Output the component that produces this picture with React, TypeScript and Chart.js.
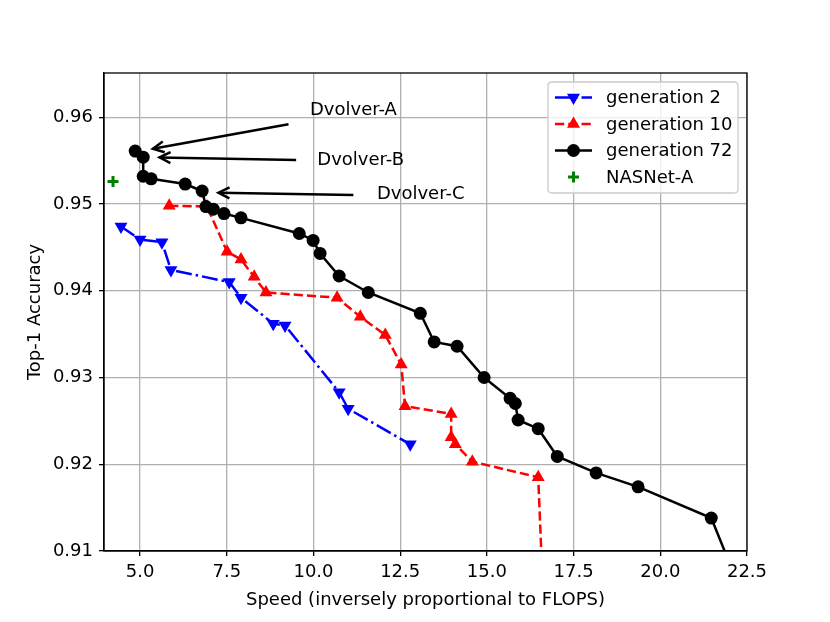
import React, { useEffect, useRef } from "react";
import { Chart, registerables } from "chart.js";

Chart.register(...registerables);

// ---- data ----
const gen2X = [4.45, 5.0, 5.63, 5.89, 7.57, 7.91, 8.84, 9.18, 10.74, 11.0, 12.79];
const gen2Y = [0.9474, 0.9459, 0.9456, 0.9424, 0.941, 0.9392, 0.9362, 0.936, 0.9283, 0.9264, 0.9223];

const gen10X = [5.84, 6.93, 7.51, 7.91, 8.29, 8.63, 10.68, 11.35, 12.07, 12.53, 12.64, 13.97, 13.97, 14.09, 14.58, 16.48, 16.62];
const gen10Y = [0.9498, 0.9497, 0.9445, 0.9436, 0.9416, 0.9398, 0.9392, 0.937, 0.9349, 0.9315, 0.9267, 0.9258, 0.9231, 0.9223, 0.9203, 0.9185, 0.905];

const gen72X = [4.86, 5.09, 5.09, 5.32, 6.3, 6.79, 6.9, 7.11, 7.42, 7.91, 9.59, 9.99, 10.19, 10.74, 11.58, 13.08, 13.48, 14.14, 14.92, 15.67, 15.82, 15.9, 16.48, 17.03, 18.15, 19.36, 21.47, 22.26];
const gen72Y = [0.9561, 0.9554, 0.9532, 0.9529, 0.9523, 0.9515, 0.9497, 0.9494, 0.9489, 0.9484, 0.9466, 0.9458, 0.9443, 0.9417, 0.9398, 0.9374, 0.9341, 0.9336, 0.93, 0.9276, 0.927, 0.9251, 0.9241, 0.9209, 0.919, 0.9174, 0.9138, 0.906];

const nasnetX = [4.22];
const nasnetY = [0.9526];

const seriesLabels = ["generation 2", "generation 10", "generation 72", "NASNet-A"];

const xTicks = [5.0, 7.5, 10.0, 12.5, 15.0, 17.5, 20.0, 22.5];
const yTicks = [0.91, 0.92, 0.93, 0.94, 0.95, 0.96];

const annotationTexts = ["Dvolver-A", "Dvolver-B", "Dvolver-C"];
const annotationTextX = [9.9, 10.11, 11.83];
const annotationTextY = [0.9608, 0.95506, 0.95112];
const arrowTailX = [9.28, 9.5, 11.15];
const arrowTailY = [0.9592, 0.95506, 0.95103];
const arrowHeadX = [5.37, 5.56, 7.26];
const arrowHeadY = [0.95636, 0.95537, 0.9513];

const FONT = "'DejaVu Sans', sans-serif";
const FS = 18;

function pts(xs: number[], ys: number[]) {
  return xs.map((x, i) => ({ x, y: ys[i] }));
}

function drawMarker(ctx: CanvasRenderingContext2D, kind: string, x: number, y: number, color: string) {
  ctx.save();
  ctx.fillStyle = color;
  ctx.strokeStyle = color;
  ctx.setLineDash([]);
  if (kind === "circle") {
    ctx.beginPath();
    ctx.arc(x, y, 6.5, 0, Math.PI * 2);
    ctx.fill();
  } else if (kind === "up" || kind === "down") {
    const r = 7.5;
    const s = kind === "up" ? 1 : -1;
    ctx.beginPath();
    for (let k = 0; k < 3; k++) {
      const a = (k * 2 * Math.PI) / 3;
      const px = x + Math.sin(a) * r;
      const py = y - s * Math.cos(a) * r;
      if (k === 0) ctx.moveTo(px, py);
      else ctx.lineTo(px, py);
    }
    ctx.closePath();
    ctx.fill();
  } else if (kind === "plus") {
    ctx.lineWidth = 3;
    ctx.beginPath();
    ctx.moveTo(x - 5.5, y);
    ctx.lineTo(x + 5.5, y);
    ctx.moveTo(x, y - 5.5);
    ctx.lineTo(x, y + 5.5);
    ctx.stroke();
  }
  ctx.restore();
}

const overlayPlugin = {
  id: "overlay",
  afterDatasetsDraw(chart: any) {
    const ctx: CanvasRenderingContext2D = chart.ctx;
    const xs = chart.scales.x;
    const ys = chart.scales.y;
    const area = chart.chartArea;

    // spines
    ctx.save();
    ctx.strokeStyle = "#000";
    ctx.lineWidth = 1.3;
    ctx.strokeRect(area.left, area.top, area.right - area.left, area.bottom - area.top);
    ctx.restore();

    // annotations
    ctx.save();
    ctx.strokeStyle = "#000";
    ctx.fillStyle = "#000";
    ctx.lineWidth = 2.5;
    ctx.lineCap = "butt";
    for (let i = 0; i < annotationTexts.length; i++) {
      const tx = xs.getPixelForValue(arrowTailX[i]);
      const ty = ys.getPixelForValue(arrowTailY[i]);
      const hx = xs.getPixelForValue(arrowHeadX[i]);
      const hy = ys.getPixelForValue(arrowHeadY[i]);
      ctx.beginPath();
      ctx.moveTo(tx, ty);
      ctx.lineTo(hx, hy);
      ctx.stroke();
      const ang = Math.atan2(ty - hy, tx - hx);
      const hl = 11, hw = 5.5;
      const bx = hx + Math.cos(ang) * hl;
      const by = hy + Math.sin(ang) * hl;
      ctx.beginPath();
      ctx.moveTo(bx - Math.sin(ang) * hw, by + Math.cos(ang) * hw);
      ctx.lineTo(hx, hy);
      ctx.lineTo(bx + Math.sin(ang) * hw, by - Math.cos(ang) * hw);
      ctx.stroke();

      ctx.font = `${FS}px ${FONT}`;
      ctx.textAlign = "left";
      ctx.textBaseline = "middle";
      ctx.fillText(
        annotationTexts[i],
        xs.getPixelForValue(annotationTextX[i]),
        ys.getPixelForValue(annotationTextY[i])
      );
    }
    ctx.restore();

    // legend
    ctx.save();
    const lx = 548, ly = 82, lw = 190, lh = 111, rad = 4;
    ctx.beginPath();
    ctx.moveTo(lx + rad, ly);
    ctx.lineTo(lx + lw - rad, ly);
    ctx.quadraticCurveTo(lx + lw, ly, lx + lw, ly + rad);
    ctx.lineTo(lx + lw, ly + lh - rad);
    ctx.quadraticCurveTo(lx + lw, ly + lh, lx + lw - rad, ly + lh);
    ctx.lineTo(lx + rad, ly + lh);
    ctx.quadraticCurveTo(lx, ly + lh, lx, ly + lh - rad);
    ctx.lineTo(lx, ly + rad);
    ctx.quadraticCurveTo(lx, ly, lx + rad, ly);
    ctx.closePath();
    ctx.fillStyle = "rgba(255,255,255,0.8)";
    ctx.fill();
    ctx.strokeStyle = "#cccccc";
    ctx.lineWidth = 1.3;
    ctx.stroke();

    const colors = ["#0000ff", "#ff0000", "#000000", "#008000"];
    const dashes = [[16, 4, 2.5, 4], [9.25, 4], [], []];
    const markers = ["down", "up", "circle", "plus"];
    const rows = [97.5, 124, 150.5, 177];
    for (let i = 0; i < 4; i++) {
      const y = rows[i];
      if (i < 3) {
        ctx.save();
        ctx.strokeStyle = colors[i];
        ctx.lineWidth = 2.5;
        ctx.setLineDash(dashes[i]);
        ctx.beginPath();
        ctx.moveTo(555, y);
        ctx.lineTo(592, y);
        ctx.stroke();
        ctx.restore();
      }
      drawMarker(ctx, markers[i], 573.5, y, colors[i]);
      ctx.fillStyle = "#000";
      ctx.font = `${FS}px ${FONT}`;
      ctx.textAlign = "left";
      ctx.textBaseline = "middle";
      ctx.fillText(seriesLabels[i], 606, y + 1);
    }
    ctx.restore();
  },
  afterDraw(chart: any) {
    const ctx: CanvasRenderingContext2D = chart.ctx;
    const area = chart.chartArea;
    ctx.save();
    ctx.fillStyle = "#000";
    ctx.font = `${FS}px ${FONT}`;
    ctx.textAlign = "center";
    ctx.textBaseline = "middle";
    ctx.fillText("Speed (inversely proportional to FLOPS)", (area.left + area.right) / 2, 600);
    ctx.translate(35, (area.top + area.bottom) / 2);
    ctx.rotate(-Math.PI / 2);
    ctx.fillText("Top-1 Accuracy", 0, 0);
    ctx.restore();
  },
};

export default function App() {
  const ref = useRef<HTMLCanvasElement | null>(null);

  useEffect(() => {
    document.body.style.margin = "0";
    const canvas = ref.current;
    if (!canvas) return;
    Chart.defaults.font.family = FONT;
    Chart.defaults.color = "#000";

    const chart = new Chart(canvas, {
      type: "scatter",
      data: {
        datasets: [
          {
            label: seriesLabels[0],
            data: pts(gen2X, gen2Y),
            showLine: true,
            borderColor: "#0000ff",
            backgroundColor: "#0000ff",
            borderWidth: 2.5,
            borderDash: [16, 4, 2.5, 4],
            pointStyle: "triangle",
            rotation: 180,
            pointRadius: 7.5,
            pointBorderWidth: 0,
            pointHoverRadius: 7.5,
            tension: 0,
            order: 4,
          } as any,
          {
            label: seriesLabels[1],
            data: pts(gen10X, gen10Y),
            showLine: true,
            borderColor: "#ff0000",
            backgroundColor: "#ff0000",
            borderWidth: 2.5,
            borderDash: [9.25, 4],
            pointStyle: "triangle",
            pointRadius: 7.5,
            pointBorderWidth: 0,
            pointHoverRadius: 7.5,
            tension: 0,
            order: 3,
          } as any,
          {
            label: seriesLabels[2],
            data: pts(gen72X, gen72Y),
            showLine: true,
            borderColor: "#000000",
            backgroundColor: "#000000",
            borderWidth: 2.5,
            pointStyle: "circle",
            pointRadius: 6.5,
            pointBorderWidth: 0,
            pointHoverRadius: 6.5,
            tension: 0,
            order: 2,
          } as any,
          {
            label: seriesLabels[3],
            data: pts(nasnetX, nasnetY),
            showLine: false,
            borderColor: "#008000",
            backgroundColor: "#008000",
            pointStyle: "cross",
            pointRadius: 5.5,
            pointBorderWidth: 3,
            pointHoverRadius: 5.5,
            order: 1,
          } as any,
        ],
      },
      options: {
        animation: false,
        responsive: false,
        events: [],
        layout: { padding: { top: 73, right: 83, left: 0, bottom: 0 } },
        plugins: {
          legend: { display: false },
          tooltip: { enabled: false },
        },
        scales: {
          x: {
            type: "linear",
            min: 3.96,
            max: 22.5,
            afterBuildTicks: (s: any) => {
              s.ticks = xTicks.map((v) => ({ value: v }));
            },
            afterFit: (s: any) => {
              s.height = 71;
            },
            ticks: {
              callback: (v: any) => Number(v).toFixed(1),
              font: { size: FS, family: FONT },
              color: "#000",
              padding: 6,
              maxRotation: 0,
              autoSkip: false,
            },
            grid: {
              color: "#b0b0b0",
              lineWidth: 1.3,
              tickColor: "#000",
              tickLength: 5,
              drawTicks: true,
            },
            border: { display: true, color: "#000", width: 1.3 },
          },
          y: {
            type: "linear",
            min: 0.91,
            max: 0.9651,
            afterBuildTicks: (s: any) => {
              s.ticks = yTicks.map((v) => ({ value: v }));
            },
            afterFit: (s: any) => {
              s.width = 104;
            },
            ticks: {
              callback: (v: any) => Number(v).toFixed(2),
              font: { size: FS, family: FONT },
              color: "#000",
              padding: 6,
              autoSkip: false,
            },
            grid: {
              color: "#b0b0b0",
              lineWidth: 1.3,
              tickColor: "#000",
              tickLength: 5,
              drawTicks: true,
            },
            border: { display: true, color: "#000", width: 1.3 },
          },
        },
      },
      plugins: [overlayPlugin],
    });
    return () => chart.destroy();
  }, []);

  return (
    <div style={{ width: 830, height: 622 }}>
      <canvas ref={ref} width={830} height={622} style={{ display: "block" }} />
    </div>
  );
}
